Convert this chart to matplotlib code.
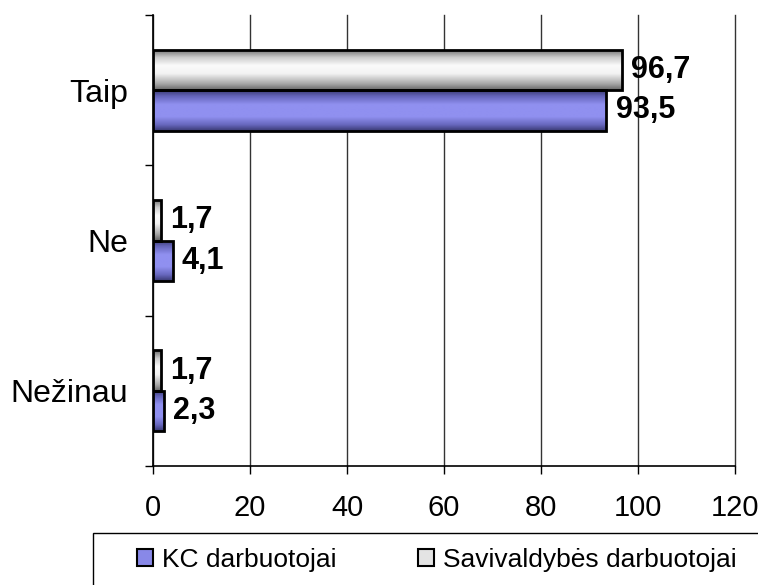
import matplotlib.pyplot as plt
import numpy as np
from matplotlib.colors import LinearSegmentedColormap
from matplotlib.patches import Patch, Rectangle

# Atsakymai ir procentai
categories = ["Taip", "Ne", "Nežinau"]
kc_values = [93.5, 4.1, 2.3]
sav_values = [96.7, 1.7, 1.7]
series_names = ["KC darbuotojai", "Savivaldybės darbuotojai"]
x_ticks = [0, 20, 40, 60, 80, 100, 120]

plt.rcParams["font.family"] = ["Liberation Sans", "DejaVu Sans"]

# cylinder-like shading, top -> bottom
blue_cmap = LinearSegmentedColormap.from_list("blue_bar", [
    (0.0, "#3a3a74"), (0.15, "#6666bb"), (0.35, "#9090f0"),
    (0.65, "#9090f0"), (0.85, "#6868be"), (1.0, "#3a3a74")])
gray_cmap = LinearSegmentedColormap.from_list("gray_bar", [
    (0.0, "#6a6a6a"), (0.2, "#cccccc"), (0.4, "#fbfbfb"),
    (0.6, "#f2f2f2"), (0.85, "#a8a8a8"), (1.0, "#6a6a6a")])

W, H = 758, 585
fig = plt.figure(figsize=(W / 100, H / 100), dpi=100)
ax = fig.add_axes([153 / W, 1 - 466 / H, 582 / W, 451 / H])

pos = np.arange(len(categories))[::-1]
h = 0.27

def shaded_bars(y, vals, cmap):
    bars = ax.barh(y, vals, height=h, facecolor="none", edgecolor="black",
                   linewidth=2, zorder=4)
    grad = np.linspace(0, 1, 100).reshape(-1, 1)
    for b in bars:
        x0, y0 = b.get_x(), b.get_y()
        im = ax.imshow(grad, extent=(x0, x0 + b.get_width(), y0, y0 + h),
                       aspect="auto", cmap=cmap, origin="upper", zorder=3,
                       interpolation="bilinear")
        im.set_clip_path(b)
    return bars

kc_bars = shaded_bars(pos - h / 2, kc_values, blue_cmap)
sav_bars = shaded_bars(pos + h / 2, sav_values, gray_cmap)

for bars, vals in [(kc_bars, kc_values), (sav_bars, sav_values)]:
    for b, v in zip(bars, vals):
        ax.annotate(f"{v:.1f}".replace(".", ","),
                    (b.get_width(), b.get_y() + h / 2),
                    xytext=(6.5, 0), textcoords="offset points",
                    ha="left", va="center", fontsize=22, fontweight="bold",
                    zorder=5)

ax.set_xlim(0, 120)
ax.set_ylim(-0.5, len(categories) - 0.5)
ax.set_xticks(x_ticks)
ax.set_xticklabels([str(t) for t in x_ticks], fontsize=21)
ax.set_yticks(pos)
ax.set_yticklabels(categories, fontsize=23)
ax.set_yticks(np.arange(-0.5, len(categories)), minor=True)
ax.tick_params(axis="y", which="major", length=0, pad=18)
ax.tick_params(axis="y", which="minor", length=6, width=1, direction="out")
ax.tick_params(axis="x", length=6, width=1, direction="out", pad=14)

ax.grid(axis="x", color="#333333", linewidth=1, zorder=0)
ax.set_axisbelow(True)
for line in ax.get_xgridlines():
    line.set_clip_on(False)
for s in ["top", "right"]:
    ax.spines[s].set_visible(False)
for s in ["left", "bottom"]:
    ax.spines[s].set_linewidth(1.2)

# legend box runs past the right and bottom edges
fig.patches.append(Rectangle((93 / W, -0.1), 1.0, 1 - 533 / H + 0.1,
                             transform=fig.transFigure, facecolor="none",
                             edgecolor="black", linewidth=1))
handles = [Patch(facecolor="#8888e8", edgecolor="black", linewidth=1.5),
           Patch(facecolor="#e4e4e4", edgecolor="black", linewidth=1.5)]
fig.legend(handles, series_names, loc="center left",
           bbox_to_anchor=(137 / W, 1 - 560 / H), ncol=2,
           fontsize=19, frameon=False, borderpad=0, borderaxespad=0,
           handlelength=0.6, handleheight=0.6, handletextpad=0.35,
           columnspacing=3.1)

fig.savefig("out.png", dpi=100)
